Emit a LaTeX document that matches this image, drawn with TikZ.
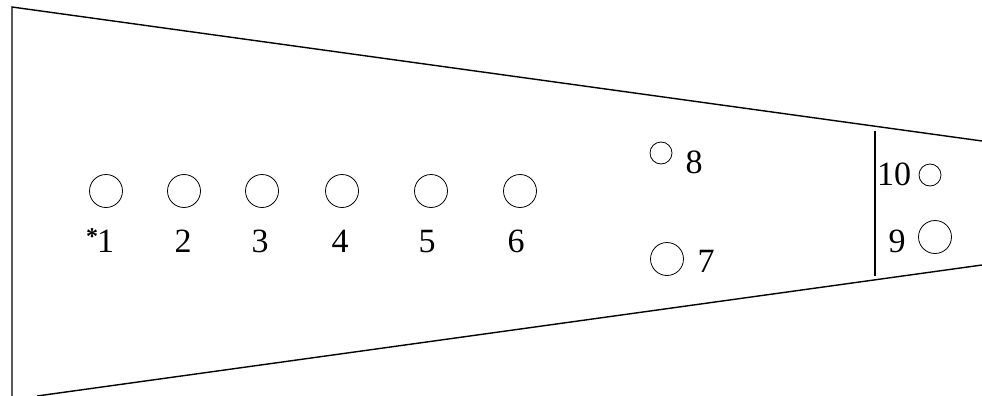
\documentclass[tikz,border=0pt]{standalone}
\usepackage{fontspec}
\setmainfont{Liberation Serif}
\begin{document}
\begin{tikzpicture}[x=1pt,y=-1pt,
  outline/.style={line width=1.4pt},
  hole/.style={circle,draw,line width=0.8pt,inner sep=0pt,minimum size=33pt},
  smallhole/.style={circle,draw,line width=0.8pt,inner sep=0pt,minimum size=22pt},
  num/.style={font=\fontsize{34}{34}\selectfont,inner sep=0pt,anchor=base}]
\useasboundingbox (0,0) rectangle (982,396);
% outline
\coordinate (tl) at (12,7);
\coordinate (bl) at (12,396);
\coordinate (tr) at (982,141);
\coordinate (bs) at (37,396);
\coordinate (br) at (982,265);
\coordinate (dt) at (875,131);
\coordinate (db) at (875,276);
\draw[outline] (bl) -- (tl) -- (tr);
\draw[outline] (bs) -- (br);
\draw[outline] (dt) -- (db);
% holes
\node[hole] (h1) at (106,191) {};
\node[hole] (h2) at (184,191) {};
\node[hole] (h3) at (262,191) {};
\node[hole] (h4) at (342,191) {};
\node[hole] (h5) at (431,191) {};
\node[hole] (h6) at (520,191) {};
\node[hole] (h7) at (667,259) {};
\node[smallhole] (h8) at (661,153) {};
\node[hole] (h9) at (935,237) {};
\node[smallhole] (h10) at (930,175) {};
% labels
\node[num] (l1) at (100,252) {\raisebox{8pt}{\fontsize{24}{24}\selectfont\bfseries *}\kern-1pt 1};
\node[num] (l2) at (183,252) {2};
\node[num] (l3) at (260,252) {3};
\node[num] (l4) at (340,252) {4};
\node[num] (l5) at (427,252) {5};
\node[num] (l6) at (516,252) {6};
\node[num] (l7) at (706,272) {7};
\node[num] (l8) at (694,173) {8};
\node[num] (l9) at (897,252) {9};
\node[num] (l10) at (894,185) {10};
\end{tikzpicture}
\end{document}
